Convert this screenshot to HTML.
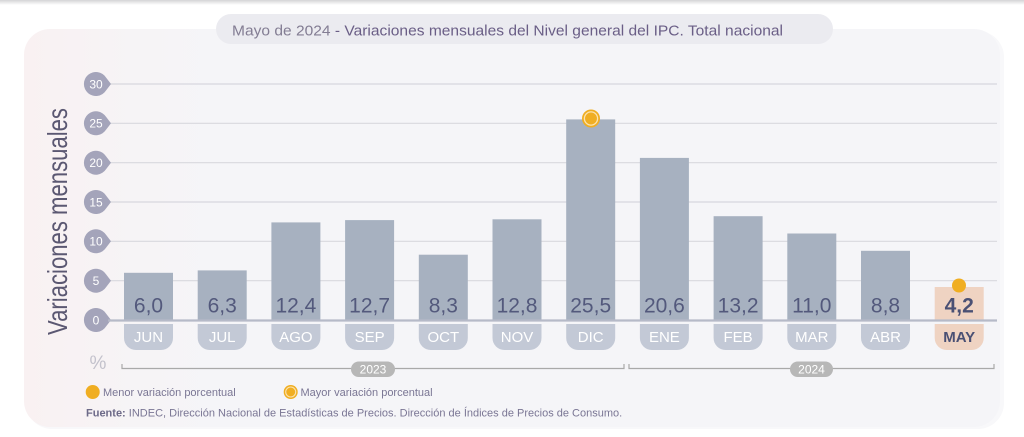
<!DOCTYPE html>
<html>
<head>
<meta charset="utf-8">
<style>
  html,body{margin:0;padding:0;background:#ffffff;}
  body{width:1024px;height:437px;overflow:hidden;}
  svg{display:block;}
  text{font-family:"Liberation Sans", Arial, sans-serif;}
</style>
</head>
<body>
<svg width="1024" height="437" viewBox="0 0 1024 437" xmlns="http://www.w3.org/2000/svg">
  <defs>
    <linearGradient id="topShadow" x1="0" y1="0" x2="0" y2="1">
      <stop offset="0" stop-color="#d4d4d6"/>
      <stop offset="1" stop-color="#ffffff"/>
    </linearGradient>
    <linearGradient id="cardGrad" x1="0" y1="0" x2="1" y2="0">
      <stop offset="0" stop-color="#f9f1f2"/>
      <stop offset="0.12" stop-color="#f6f4f6"/>
      <stop offset="0.2" stop-color="#f5f5f8"/>
      <stop offset="1" stop-color="#f5f5f8"/>
    </linearGradient>
  </defs>

  <!-- top shadow strip -->
  <rect x="0" y="0" width="1024" height="5" fill="url(#topShadow)"/>

  <!-- card -->
  <rect x="26" y="31" width="978" height="398" rx="26" fill="#f8f8fa"/>
  <rect x="24" y="29" width="976" height="398" rx="26" fill="url(#cardGrad)"/>

  <!-- title pill -->
  <rect x="216" y="14" width="617" height="30" rx="15" fill="#ebebf0"/>
  <text x="232" y="35.5" font-size="15" textLength="551" lengthAdjust="spacingAndGlyphs"><tspan fill="#837d93">Mayo de 2024 </tspan><tspan fill="#6a5e86">- Variaciones mensuales del Nivel general del IPC. Total nacional</tspan></text>

  <!-- gridlines -->
  <g stroke="#d8d8de" stroke-width="1.2">
    <line x1="108" y1="84" x2="997" y2="84"/>
    <line x1="108" y1="123.3" x2="997" y2="123.3"/>
    <line x1="108" y1="162.7" x2="997" y2="162.7"/>
    <line x1="108" y1="202" x2="997" y2="202"/>
    <line x1="108" y1="241.3" x2="997" y2="241.3"/>
    <line x1="108" y1="280.7" x2="997" y2="280.7"/>
  </g>

  <!-- y-axis title -->
  <text transform="translate(67,335) rotate(-90)" font-size="28" fill="#5b5872" textLength="227" lengthAdjust="spacingAndGlyphs">Variaciones mensuales</text>
  <text x="98" y="369" font-size="19" fill="#c3c2cc" text-anchor="middle">%</text>

  <!-- tick markers -->
  <g fill="#a4a4ba">
    <path d="M111 84 L106 77.5 A12 12 0 1 0 106 90.5 Z"/>
    <path d="M111 123.3 L106 116.8 A12 12 0 1 0 106 129.8 Z"/>
    <path d="M111 162.7 L106 156.2 A12 12 0 1 0 106 169.2 Z"/>
    <path d="M111 202 L106 195.5 A12 12 0 1 0 106 208.5 Z"/>
    <path d="M111 241.3 L106 234.8 A12 12 0 1 0 106 247.8 Z"/>
    <path d="M111 280.7 L106 274.2 A12 12 0 1 0 106 287.2 Z"/>
    <path d="M111 320 L106 313.5 A12 12 0 1 0 106 326.5 Z"/>
  </g>
  <g fill="#ffffff" font-size="12" text-anchor="middle">
    <text x="96" y="88.3">30</text>
    <text x="96" y="127.6">25</text>
    <text x="96" y="167">20</text>
    <text x="96" y="206.3">15</text>
    <text x="96" y="245.6">10</text>
    <text x="96" y="285">5</text>
    <text x="96" y="324.3">0</text>
  </g>

  <!-- bars -->
  <g fill="#a7b1c0">
    <rect x="124" y="272.8" width="49" height="47.2"/>
    <rect x="197.7" y="270.4" width="49" height="49.6"/>
    <rect x="271.4" y="222.4" width="49" height="97.6"/>
    <rect x="345.1" y="220.1" width="49" height="99.9"/>
    <rect x="418.8" y="254.7" width="49" height="65.3"/>
    <rect x="492.5" y="219.3" width="49" height="100.7"/>
    <rect x="566.2" y="119.4" width="49" height="200.6"/>
    <rect x="639.9" y="157.9" width="49" height="162.1"/>
    <rect x="713.6" y="216.2" width="49" height="103.8"/>
    <rect x="787.3" y="233.5" width="49" height="86.5"/>
    <rect x="861" y="250.8" width="49" height="69.2"/>
  </g>
  <rect x="934.7" y="287" width="49" height="33" fill="#efd3c2"/>

  <!-- zero line -->
  <line x1="108" y1="320.5" x2="997" y2="320.5" stroke="#b6bac8" stroke-width="2.2"/>

  <!-- value labels -->
  <g fill="#53597c" font-size="21" text-anchor="middle">
    <text x="148.5" y="312.7">6,0</text>
    <text x="222.2" y="312.7">6,3</text>
    <text x="295.9" y="312.7">12,4</text>
    <text x="369.6" y="312.7">12,7</text>
    <text x="443.3" y="312.7">8,3</text>
    <text x="517" y="312.7">12,8</text>
    <text x="590.7" y="312.7">25,5</text>
    <text x="664.4" y="312.7">20,6</text>
    <text x="738.1" y="312.7">13,2</text>
    <text x="811.8" y="312.7">11,0</text>
    <text x="885.5" y="312.7">8,8</text>
  </g>
  <text x="959.2" y="312.7" fill="#4a5074" font-size="21" font-weight="bold" text-anchor="middle">4,2</text>

  <!-- month pills -->
  <g fill="#c3c9d6">
    <path d="M124 324 h49 v14 a12 12 0 0 1 -12 12 h-25 a12 12 0 0 1 -12 -12 Z"/>
    <path d="M197.7 324 h49 v14 a12 12 0 0 1 -12 12 h-25 a12 12 0 0 1 -12 -12 Z"/>
    <path d="M271.4 324 h49 v14 a12 12 0 0 1 -12 12 h-25 a12 12 0 0 1 -12 -12 Z"/>
    <path d="M345.1 324 h49 v14 a12 12 0 0 1 -12 12 h-25 a12 12 0 0 1 -12 -12 Z"/>
    <path d="M418.8 324 h49 v14 a12 12 0 0 1 -12 12 h-25 a12 12 0 0 1 -12 -12 Z"/>
    <path d="M492.5 324 h49 v14 a12 12 0 0 1 -12 12 h-25 a12 12 0 0 1 -12 -12 Z"/>
    <path d="M566.2 324 h49 v14 a12 12 0 0 1 -12 12 h-25 a12 12 0 0 1 -12 -12 Z"/>
    <path d="M639.9 324 h49 v14 a12 12 0 0 1 -12 12 h-25 a12 12 0 0 1 -12 -12 Z"/>
    <path d="M713.6 324 h49 v14 a12 12 0 0 1 -12 12 h-25 a12 12 0 0 1 -12 -12 Z"/>
    <path d="M787.3 324 h49 v14 a12 12 0 0 1 -12 12 h-25 a12 12 0 0 1 -12 -12 Z"/>
    <path d="M861 324 h49 v14 a12 12 0 0 1 -12 12 h-25 a12 12 0 0 1 -12 -12 Z"/>
  </g>
  <path d="M934.7 324 h49 v14 a12 12 0 0 1 -12 12 h-25 a12 12 0 0 1 -12 -12 Z" fill="#efd3c2"/>
  <g fill="#ffffff" font-size="15" text-anchor="middle">
    <text x="148.5" y="342">JUN</text>
    <text x="222.2" y="342">JUL</text>
    <text x="295.9" y="342">AGO</text>
    <text x="369.6" y="342">SEP</text>
    <text x="443.3" y="342">OCT</text>
    <text x="517" y="342">NOV</text>
    <text x="590.7" y="342">DIC</text>
    <text x="664.4" y="342">ENE</text>
    <text x="738.1" y="342">FEB</text>
    <text x="811.8" y="342">MAR</text>
    <text x="885.5" y="342">ABR</text>
  </g>
  <text x="959.2" y="342" fill="#4a5074" font-size="15" font-weight="bold" text-anchor="middle">MAY</text>

  <!-- markers -->
  <circle cx="591" cy="118.5" r="9" fill="#f0ae22"/>
  <circle cx="591" cy="118.5" r="6.6" fill="none" stroke="#fbe3b0" stroke-width="1.3"/>
  <circle cx="959" cy="285.5" r="7" fill="#f0ae22"/>

  <!-- year brackets -->
  <g stroke="#a9a9a9" stroke-width="1.2" fill="none">
    <polyline points="122,364 122,368.5 624,368.5 624,364"/>
    <polyline points="629,364 629,368.5 994,368.5 994,364"/>
  </g>
  <rect x="351" y="361.5" width="44" height="15.5" rx="7.75" fill="#b7b7b7"/>
  <text x="373" y="373.5" fill="#ffffff" font-size="12" text-anchor="middle">2023</text>
  <rect x="790" y="361.5" width="43" height="15.5" rx="7.75" fill="#b7b7b7"/>
  <text x="811.5" y="373.5" fill="#ffffff" font-size="12" text-anchor="middle">2024</text>

  <!-- legend -->
  <circle cx="92.7" cy="392" r="7" fill="#f0ae22"/>
  <text x="103" y="396" fill="#7a7694" font-size="11">Menor variación porcentual</text>
  <circle cx="290.7" cy="392" r="7" fill="#f0ae22"/>
  <circle cx="290.7" cy="392" r="5" fill="none" stroke="#fbe3b0" stroke-width="1.1"/>
  <text x="300.5" y="396" fill="#7a7694" font-size="11">Mayor variación porcentual</text>

  <!-- source -->
  <text x="86" y="416.5" fill="#7a7694" font-size="11"><tspan font-weight="bold" fill="#6d6a88">Fuente:</tspan> INDEC, Dirección Nacional de Estadísticas de Precios. Dirección de Índices de Precios de Consumo.</text>
</svg>
</body>
</html>
